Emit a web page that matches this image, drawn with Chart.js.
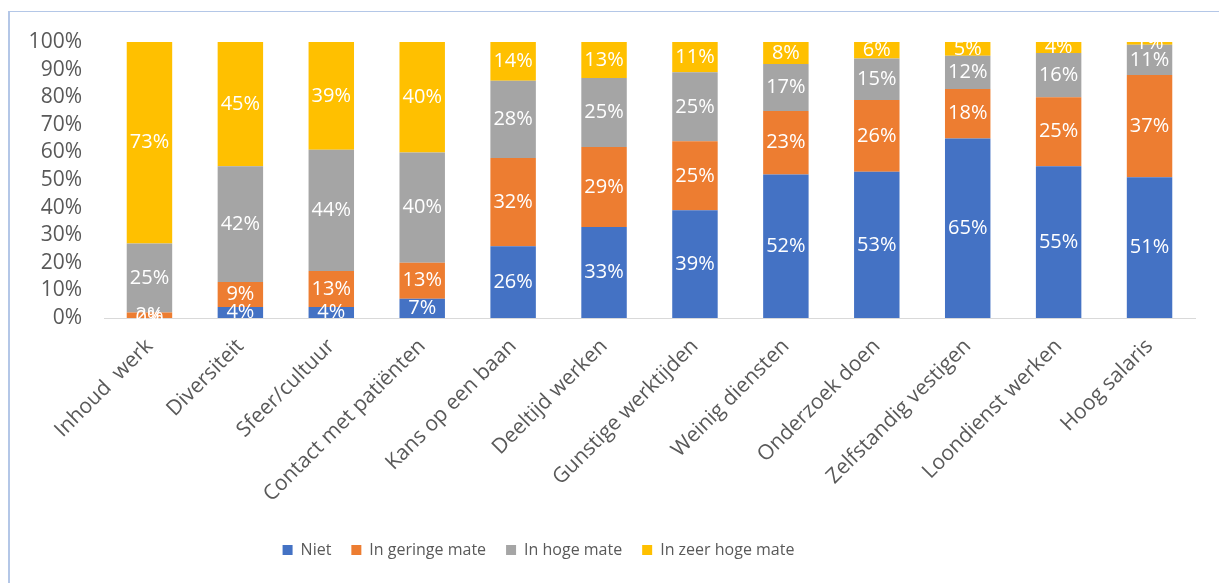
<!DOCTYPE html>
<html>
<head>
<meta charset="utf-8">
<script src="https://cdn.jsdelivr.net/npm/chart.js@4.4.0/dist/chart.umd.min.js"></script>
<style>
  body { margin: 0; background: #fff; }
  #frame { position: absolute; left: 8px; top: 11px; right: 0; bottom: 0;
           border-left: 2px solid #b4c7e7; border-top: 1px solid #b4c7e7; }
  #wrap { position: absolute; left: 0; top: 0; width: 1219px; height: 583px; }
</style>
</head>
<body>
<div id="frame"></div>
<div id="wrap"><canvas id="chart"></canvas></div>
<script>
const categories = ["Inhoud  werk", "Diversiteit", "Sfeer/cultuur", "Contact met patiënten",
  "Kans op een baan", "Deeltijd werken", "Gunstige werktijden", "Weinig diensten",
  "Onderzoek doen", "Zelfstandig vestigen", "Loondienst werken", "Hoog salaris"];
const niet = [0, 4, 4, 7, 26, 33, 39, 52, 53, 65, 55, 51];
const geringe = [2, 9, 13, 13, 32, 29, 25, 23, 26, 18, 25, 37];
const hoge = [25, 42, 44, 40, 28, 25, 25, 17, 15, 12, 16, 11];
const zeerHoge = [73, 45, 39, 40, 14, 13, 11, 8, 6, 5, 4, 1];
const yTicks = [0, 10, 20, 30, 40, 50, 60, 70, 80, 90, 100];

const textColor = "#595959";
const mainFont = "'Open Sans', sans-serif";

// white value labels in the middle of each segment
const barLabels = {
  id: "barLabels",
  afterDatasetsDraw(chart) {
    const ctx = chart.ctx;
    ctx.save();
    ctx.font = "20px " + mainFont;
    ctx.fillStyle = "#ffffff";
    ctx.textAlign = "center";
    ctx.textBaseline = "middle";
    chart.data.datasets.forEach((ds, i) => {
      chart.getDatasetMeta(i).data.forEach((bar, j) => {
        ctx.fillText(ds.data[j] + "%", bar.x, (bar.y + bar.base) / 2);
      });
    });
    ctx.restore();
  }
};

// the legend in the original sits left of centre
const legendShift = {
  id: "legendShift",
  afterLayout(chart) {
    chart.legend.right -= 138;
  }
};

new Chart(document.getElementById("chart"), {
  type: "bar",
  data: {
    labels: categories,
    datasets: [
      { label: "Niet", data: niet, backgroundColor: "#4472c4" },
      { label: "In geringe mate", data: geringe, backgroundColor: "#ed7d31" },
      { label: "In hoge mate", data: hoge, backgroundColor: "#a5a5a5" },
      { label: "In zeer hoge mate", data: zeerHoge, backgroundColor: "#ffc000" },
    ],
  },
  options: {
    responsive: true,
    maintainAspectRatio: false,
    animation: false,
    barPercentage: 0.5,
    categoryPercentage: 1,
    layout: { padding: { left: 20, right: 24, top: 42, bottom: 15 } },
    plugins: {
      tooltip: { enabled: false },
      legend: {
        position: "bottom",
        labels: {
          color: textColor,
          font: { family: mainFont, size: 16 },
          boxWidth: 10,
          boxHeight: 10,
          padding: 20,
        },
      },
    },
    scales: {
      x: {
        stacked: true,
        grid: { display: false, drawTicks: false },
        border: { color: "#d9d9d9", width: 1 },
        ticks: {
          color: textColor,
          font: { family: mainFont, size: 21 },
          minRotation: 45,
          maxRotation: 45,
          padding: 16,
          autoSkip: false,
        },
        afterFit(scale) {
          scale.height = 204;
          scale.paddingLeft = 0;
          scale.paddingRight = 0;
        },
      },
      y: {
        stacked: true,
        min: 0,
        max: 100,
        grid: { display: false, drawTicks: false },
        border: { display: false },
        afterBuildTicks(scale) {
          scale.ticks = yTicks.map(v => ({ value: v }));
        },
        ticks: {
          color: textColor,
          font: { family: mainFont, size: 21 },
          padding: 22,
          autoSkip: false,
          callback: v => v + "%",
        },
        afterFit(scale) {
          scale.width = 84;
        },
      },
    },
  },
  plugins: [barLabels, legendShift],
});
</script>
</body>
</html>
